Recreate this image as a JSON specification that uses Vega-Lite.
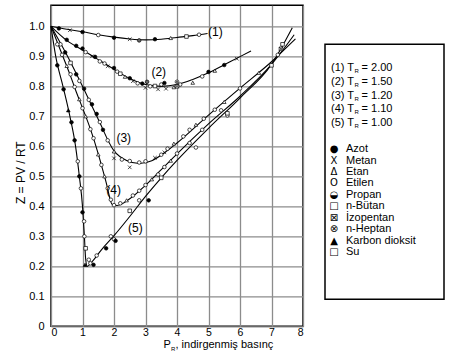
{
  "$schema": "https://vega.github.io/schema/vega-lite/v6.json",
  "background": "white",
  "padding": {"left": 13, "top": 4, "right": 0, "bottom": 0},
  "autosize": {"type": "pad"},
  "spacing": 20,
  "center": true,
  "config": {
    "font": "Liberation Sans",
    "text": {"color": "black"},
    "axis": {"ticks": false, "tickSize": 0, "domain": false, "labelColor": "black", "gridColor": "#8c8c8c", "gridWidth": 1.3, "gridOpacity": 1},
    "axisX": {"labelPadding": 1, "labelFontSize": 10.5},
    "axisY": {"labelPadding": 7, "labelFontSize": 11}
  },
  "datasets": {
    "curves": [
      {"c": "1", "P": 0, "Z": 1.0}, {"c": "1", "P": 0.5, "Z": 0.99}, {"c": "1", "P": 1, "Z": 0.982}, {"c": "1", "P": 1.5, "Z": 0.972}, {"c": "1", "P": 2, "Z": 0.964}, {"c": "1", "P": 2.5, "Z": 0.958}, {"c": "1", "P": 3, "Z": 0.955}, {"c": "1", "P": 3.5, "Z": 0.957}, {"c": "1", "P": 4, "Z": 0.963}, {"c": "1", "P": 4.5, "Z": 0.969}, {"c": "1", "P": 4.97, "Z": 0.976},
      {"c": "2", "P": 0, "Z": 1.0}, {"c": "2", "P": 0.5, "Z": 0.953}, {"c": "2", "P": 1, "Z": 0.921}, {"c": "2", "P": 1.5, "Z": 0.889}, {"c": "2", "P": 2, "Z": 0.857}, {"c": "2", "P": 2.5, "Z": 0.826}, {"c": "2", "P": 3, "Z": 0.806}, {"c": "2", "P": 3.5, "Z": 0.8}, {"c": "2", "P": 4, "Z": 0.806}, {"c": "2", "P": 4.5, "Z": 0.823}, {"c": "2", "P": 5, "Z": 0.845}, {"c": "2", "P": 5.5, "Z": 0.872}, {"c": "2", "P": 6, "Z": 0.899}, {"c": "2", "P": 6.35, "Z": 0.918},
      {"c": "3", "P": 0, "Z": 1.0}, {"c": "3", "P": 0.5, "Z": 0.905}, {"c": "3", "P": 1, "Z": 0.8}, {"c": "3", "P": 1.5, "Z": 0.69}, {"c": "3", "P": 2, "Z": 0.585}, {"c": "3", "P": 2.4, "Z": 0.553}, {"c": "3", "P": 2.8, "Z": 0.543}, {"c": "3", "P": 3.2, "Z": 0.552}, {"c": "3", "P": 3.6, "Z": 0.578}, {"c": "3", "P": 4, "Z": 0.611}, {"c": "3", "P": 5, "Z": 0.704}, {"c": "3", "P": 6, "Z": 0.794}, {"c": "3", "P": 7, "Z": 0.882}, {"c": "3", "P": 7.76, "Z": 0.958},
      {"c": "4", "P": 0, "Z": 1.0}, {"c": "4", "P": 0.3, "Z": 0.92}, {"c": "4", "P": 0.6, "Z": 0.84}, {"c": "4", "P": 0.8, "Z": 0.782}, {"c": "4", "P": 1.0, "Z": 0.728}, {"c": "4", "P": 1.25, "Z": 0.658}, {"c": "4", "P": 1.5, "Z": 0.575}, {"c": "4", "P": 1.75, "Z": 0.48}, {"c": "4", "P": 1.95, "Z": 0.405}, {"c": "4", "P": 2.1, "Z": 0.403}, {"c": "4", "P": 2.5, "Z": 0.425}, {"c": "4", "P": 3, "Z": 0.47}, {"c": "4", "P": 3.5, "Z": 0.522}, {"c": "4", "P": 4, "Z": 0.575}, {"c": "4", "P": 5, "Z": 0.675}, {"c": "4", "P": 6, "Z": 0.767}, {"c": "4", "P": 7, "Z": 0.873}, {"c": "4", "P": 7.72, "Z": 0.972},
      {"c": "5", "P": 0, "Z": 1.0}, {"c": "5", "P": 0.15, "Z": 0.9}, {"c": "5", "P": 0.38, "Z": 0.8}, {"c": "5", "P": 0.6, "Z": 0.7}, {"c": "5", "P": 0.78, "Z": 0.6}, {"c": "5", "P": 0.9, "Z": 0.5}, {"c": "5", "P": 1.0, "Z": 0.4}, {"c": "5", "P": 1.06, "Z": 0.3}, {"c": "5", "P": 1.1, "Z": 0.225}, {"c": "5", "P": 1.15, "Z": 0.2}, {"c": "5", "P": 1.3, "Z": 0.215}, {"c": "5", "P": 1.6, "Z": 0.255}, {"c": "5", "P": 2, "Z": 0.302}, {"c": "5", "P": 2.5, "Z": 0.366}, {"c": "5", "P": 3, "Z": 0.433}, {"c": "5", "P": 3.5, "Z": 0.495}, {"c": "5", "P": 4, "Z": 0.553}, {"c": "5", "P": 5, "Z": 0.66}, {"c": "5", "P": 6, "Z": 0.761}, {"c": "5", "P": 7, "Z": 0.873}, {"c": "5", "P": 7.66, "Z": 0.995}
    ],
    "pts": [
      {"s": "Azot", "P": 0.25, "Z": 0.993}, {"s": "Azot", "P": 1.0, "Z": 0.981}, {"s": "Azot", "P": 2.0, "Z": 0.962}, {"s": "Azot", "P": 3.3, "Z": 0.957}, {"s": "Metan", "P": 0.6, "Z": 0.987}, {"s": "Etilen", "P": 1.5, "Z": 0.971}, {"s": "Metan", "P": 2.5, "Z": 0.957}, {"s": "Propan", "P": 2.8, "Z": 0.953}, {"s": "Etan", "P": 3.8, "Z": 0.961}, {"s": "n-Bütan", "P": 4.3, "Z": 0.966}, {"s": "Etilen", "P": 4.7, "Z": 0.972},
      {"s": "Azot", "P": 0.5, "Z": 0.955}, {"s": "Azot", "P": 0.8, "Z": 0.935}, {"s": "Azot", "P": 1.0, "Z": 0.926}, {"s": "Etilen", "P": 1.1, "Z": 0.914}, {"s": "Metan", "P": 1.3, "Z": 0.9}, {"s": "Azot", "P": 1.4, "Z": 0.898}, {"s": "Etilen", "P": 1.55, "Z": 0.883}, {"s": "Etilen", "P": 1.7, "Z": 0.876}, {"s": "Metan", "P": 1.8, "Z": 0.867}, {"s": "Azot", "P": 2.0, "Z": 0.861}, {"s": "Etilen", "P": 2.1, "Z": 0.849}, {"s": "n-Bütan", "P": 2.2, "Z": 0.842}, {"s": "Etan", "P": 2.35, "Z": 0.832}, {"s": "Azot", "P": 2.5, "Z": 0.827}, {"s": "Metan", "P": 2.6, "Z": 0.817}, {"s": "Etilen", "P": 2.75, "Z": 0.81}, {"s": "Azot", "P": 2.9, "Z": 0.809}, {"s": "Propan", "P": 3.05, "Z": 0.815}, {"s": "Metan", "P": 3.0, "Z": 0.795}, {"s": "Etilen", "P": 3.15, "Z": 0.8}, {"s": "n-Bütan", "P": 3.3, "Z": 0.801}, {"s": "Metan", "P": 3.4, "Z": 0.79}, {"s": "Etilen", "P": 3.5, "Z": 0.806}, {"s": "Azot", "P": 3.6, "Z": 0.811}, {"s": "Metan", "P": 3.65, "Z": 0.792}, {"s": "Etan", "P": 3.9, "Z": 0.797}, {"s": "n-Heptan", "P": 4.0, "Z": 0.815}, {"s": "Etilen", "P": 4.1, "Z": 0.806}, {"s": "İzopentan", "P": 4.0, "Z": 0.8}, {"s": "Etan", "P": 4.5, "Z": 0.812}, {"s": "Etilen", "P": 4.8, "Z": 0.833}, {"s": "Azot", "P": 5.0, "Z": 0.848}, {"s": "Etan", "P": 5.2, "Z": 0.852}, {"s": "Azot", "P": 5.5, "Z": 0.871}, {"s": "Metan", "P": 5.9, "Z": 0.892},
      {"s": "Etilen", "P": 0.3, "Z": 0.94}, {"s": "Azot", "P": 0.45, "Z": 0.913}, {"s": "n-Bütan", "P": 0.62, "Z": 0.878}, {"s": "Azot", "P": 0.8, "Z": 0.84}, {"s": "Etilen", "P": 0.9, "Z": 0.818}, {"s": "Azot", "P": 1.05, "Z": 0.792}, {"s": "Etilen", "P": 1.2, "Z": 0.755}, {"s": "Azot", "P": 1.3, "Z": 0.74}, {"s": "Azot", "P": 1.45, "Z": 0.708}, {"s": "Etilen", "P": 1.55, "Z": 0.681}, {"s": "Azot", "P": 1.65, "Z": 0.655}, {"s": "Etilen", "P": 1.8, "Z": 0.62}, {"s": "Etan", "P": 2.0, "Z": 0.583}, {"s": "Metan", "P": 2.0, "Z": 0.56}, {"s": "Etilen", "P": 2.25, "Z": 0.556}, {"s": "Metan", "P": 2.5, "Z": 0.53}, {"s": "Etilen", "P": 2.5, "Z": 0.551}, {"s": "Etilen", "P": 2.8, "Z": 0.546}, {"s": "Etilen", "P": 3.0, "Z": 0.55}, {"s": "Metan", "P": 3.3, "Z": 0.562}, {"s": "Etilen", "P": 3.5, "Z": 0.572}, {"s": "Metan", "P": 3.6, "Z": 0.58}, {"s": "Etilen", "P": 3.7, "Z": 0.592}, {"s": "Etan", "P": 3.9, "Z": 0.609}, {"s": "Etilen", "P": 4.2, "Z": 0.633}, {"s": "Etilen", "P": 4.4, "Z": 0.655}, {"s": "Etan", "P": 4.6, "Z": 0.672}, {"s": "Etilen", "P": 4.85, "Z": 0.692}, {"s": "Etilen", "P": 5.2, "Z": 0.722}, {"s": "Etan", "P": 5.5, "Z": 0.748}, {"s": "Etilen", "P": 6.0, "Z": 0.793}, {"s": "Etan", "P": 6.6, "Z": 0.845}, {"s": "Etilen", "P": 7.2, "Z": 0.905},
      {"s": "Etilen", "P": 0.2, "Z": 0.94}, {"s": "Etilen", "P": 0.35, "Z": 0.905}, {"s": "Etan", "P": 0.5, "Z": 0.868}, {"s": "Etilen", "P": 0.62, "Z": 0.84}, {"s": "Etilen", "P": 0.75, "Z": 0.798}, {"s": "Etan", "P": 0.9, "Z": 0.757}, {"s": "Etilen", "P": 1.0, "Z": 0.727}, {"s": "Etan", "P": 1.1, "Z": 0.7}, {"s": "Etilen", "P": 1.25, "Z": 0.657}, {"s": "Etilen", "P": 1.35, "Z": 0.627}, {"s": "Etan", "P": 1.5, "Z": 0.573}, {"s": "Etilen", "P": 1.6, "Z": 0.538}, {"s": "Etan", "P": 1.7, "Z": 0.5}, {"s": "Etilen", "P": 1.8, "Z": 0.46}, {"s": "Etilen", "P": 1.9, "Z": 0.422}, {"s": "Etilen", "P": 2.0, "Z": 0.404}, {"s": "Etilen", "P": 2.2, "Z": 0.41}, {"s": "Etan", "P": 2.4, "Z": 0.42}, {"s": "Etilen", "P": 2.6, "Z": 0.436}, {"s": "Etilen", "P": 2.8, "Z": 0.452}, {"s": "Etilen", "P": 3.0, "Z": 0.471}, {"s": "Etan", "P": 3.2, "Z": 0.49}, {"s": "Etilen", "P": 3.4, "Z": 0.506}, {"s": "Etilen", "P": 3.6, "Z": 0.531}, {"s": "Etan", "P": 3.8, "Z": 0.552}, {"s": "Etilen", "P": 4.0, "Z": 0.576}, {"s": "Etilen", "P": 4.4, "Z": 0.611}, {"s": "Etilen", "P": 4.6, "Z": 0.596}, {"s": "Etilen", "P": 4.8, "Z": 0.655}, {"s": "Etilen", "P": 5.4, "Z": 0.72}, {"s": "Etilen", "P": 5.6, "Z": 0.703},
      {"s": "Azot", "P": 0.2, "Z": 0.87}, {"s": "Azot", "P": 0.4, "Z": 0.79}, {"s": "Karbon dioksit", "P": 0.55, "Z": 0.72}, {"s": "Azot", "P": 0.65, "Z": 0.68}, {"s": "Azot", "P": 0.75, "Z": 0.62}, {"s": "Etilen", "P": 0.85, "Z": 0.55}, {"s": "Azot", "P": 0.9, "Z": 0.5}, {"s": "Etilen", "P": 0.95, "Z": 0.46}, {"s": "Azot", "P": 1.0, "Z": 0.38}, {"s": "Etilen", "P": 1.05, "Z": 0.35}, {"s": "Etilen", "P": 1.06, "Z": 0.3}, {"s": "n-Bütan", "P": 1.1, "Z": 0.26}, {"s": "Karbon dioksit", "P": 1.08, "Z": 0.205}, {"s": "Etilen", "P": 1.2, "Z": 0.222}, {"s": "Etilen", "P": 1.25, "Z": 0.21}, {"s": "Azot", "P": 1.35, "Z": 0.205}, {"s": "Etilen", "P": 1.45, "Z": 0.236}, {"s": "Azot", "P": 1.75, "Z": 0.26}, {"s": "Etilen", "P": 1.9, "Z": 0.3}, {"s": "Etilen", "P": 2.0, "Z": 0.29}, {"s": "Azot", "P": 2.05, "Z": 0.285}, {"s": "n-Bütan", "P": 2.5, "Z": 0.385}, {"s": "Etilen", "P": 2.8, "Z": 0.42}, {"s": "Azot", "P": 3.1, "Z": 0.42}, {"s": "n-Bütan", "P": 3.5, "Z": 0.495}, {"s": "n-Bütan", "P": 5.6, "Z": 0.71}, {"s": "Su", "P": 7.0, "Z": 0.87}, {"s": "İzopentan", "P": 7.3, "Z": 0.925}, {"s": "n-Bütan", "P": 7.35, "Z": 0.94}
    ],
    "labels": [
      {"t": "(1)", "P": 5.22, "Z": 0.981}, {"t": "(2)", "P": 3.42, "Z": 0.847}, {"t": "(3)", "P": 2.31, "Z": 0.628}, {"t": "(4)", "P": 1.99, "Z": 0.456}, {"t": "(5)", "P": 2.68, "Z": 0.328}
    ],
    "xtitle": [
      {"t": "P", "P": 3.571, "Z": -0.0733}, {"t": ", indirgenmiş basınç", "P": 3.952, "Z": -0.0733}
    ],
    "xsub": [
      {"t": "R", "P": 3.81, "Z": -0.082}
    ],
    "ytitle": [
      {"t": "Z = PV / RT", "P": -0.968, "Z": 0.512}
    ],
    "tr": [
      {"i": 1, "a": "(1) T", "r": "R", "b": "= 2.00"},
      {"i": 2, "a": "(2) T", "r": "R", "b": "= 1.50"},
      {"i": 3, "a": "(3) T", "r": "R", "b": "= 1.20"},
      {"i": 4, "a": "(4) T", "r": "R", "b": "= 1.10"},
      {"i": 5, "a": "(5) T", "r": "R", "b": "= 1.00"}
    ],
    "subs": [
      {"j": 1, "g": "●", "s": "Azot"},
      {"j": 2, "g": "X", "s": "Metan"},
      {"j": 3, "g": "Δ", "s": "Etan"},
      {"j": 4, "g": "O", "s": "Etilen"},
      {"j": 5, "g": "◒", "s": "Propan"},
      {"j": 6, "g": "□", "s": "n-Bütan"},
      {"j": 7, "g": "⊠", "s": "İzopentan"},
      {"j": 8, "g": "⊗", "s": "n-Heptan"},
      {"j": 9, "g": "▲", "s": "Karbon dioksit"},
      {"j": 10, "g": "□", "s": "Su"}
    ]
  },
  "hconcat": [
    {
      "width": 252,
      "height": 321,
      "view": {"stroke": "black", "strokeWidth": 1.5},
      "encoding": {
        "x": {"field": "P", "type": "quantitative", "scale": {"domain": [0, 8], "nice": false, "zero": false}, "axis": {"values": [0, 1, 2, 3, 4, 5, 6, 7, 8], "title": null}},
        "y": {"field": "Z", "type": "quantitative", "scale": {"domain": [0, 1.07], "nice": false, "zero": false}, "axis": {"values": [0, 0.1, 0.2, 0.3, 0.4, 0.5, 0.6, 0.7, 0.8, 0.9, 1.0], "labelExpr": "datum.value == 0 ? '0' : format(datum.value, '.1f')", "title": null}}
      },
      "layer": [
        {"data": {"name": "curves"}, "mark": {"type": "line", "color": "black", "strokeWidth": 1.1, "interpolate": "monotone"}, "encoding": {"detail": {"field": "c"}}},
        {"data": {"name": "pts"}, "mark": {"type": "point", "stroke": "black", "strokeWidth": 0.7, "size": 13, "opacity": 1},
          "encoding": {
            "shape": {"field": "s", "type": "nominal", "legend": null, "scale": {"domain": ["Azot", "Metan", "Etan", "Etilen", "Propan", "n-Bütan", "İzopentan", "n-Heptan", "Karbon dioksit", "Su"], "range": ["circle", "M-1,-1L1,1M-1,1L1,-1", "triangle-up", "circle", "circle", "square", "M-1,-1H1V1H-1Z M-1,-1L1,1M1,-1L-1,1", "M-1,0A1,1 0 1,0 1,0A1,1 0 1,0 -1,0Z M-0.7,-0.7L0.7,0.7M0.7,-0.7L-0.7,0.7", "triangle-up", "square"]}},
            "fill": {"field": "s", "type": "nominal", "legend": null, "scale": {"domain": ["Azot", "Metan", "Etan", "Etilen", "Propan", "n-Bütan", "İzopentan", "n-Heptan", "Karbon dioksit", "Su"], "range": ["black", "white", "white", "white", "#666666", "white", "white", "white", "black", "white"]}}
          }},
        {"data": {"name": "labels"}, "mark": {"type": "text", "fontSize": 12, "align": "center", "baseline": "middle"}, "encoding": {"text": {"field": "t"}}},
        {"data": {"name": "xtitle"}, "mark": {"type": "text", "fontSize": 11, "align": "left", "baseline": "alphabetic"}, "encoding": {"text": {"field": "t"}}},
        {"data": {"name": "xsub"}, "mark": {"type": "text", "fontSize": 6, "align": "left", "baseline": "alphabetic"}, "encoding": {"text": {"field": "t"}}},
        {"data": {"name": "ytitle"}, "mark": {"type": "text", "fontSize": 12, "align": "center", "baseline": "middle", "angle": 270}, "encoding": {"text": {"field": "t"}}}
      ]
    },
    {
      "width": 119,
      "height": 255,
      "view": {"stroke": "black", "strokeWidth": 1.5},
      "title": {"text": " ", "orient": "bottom", "fontSize": 2, "offset": 12},
      "layer": [
        {"data": {"name": "tr"},
          "encoding": {
            "y": {"field": "i", "type": "quantitative", "scale": {"domain": [-0.745, 17.8], "reverse": true, "nice": false, "zero": false}, "axis": null}
          },
          "layer": [
            {"mark": {"type": "text", "fontSize": 11, "align": "left", "baseline": "middle"}, "encoding": {"x": {"datum": 0.0504, "type": "quantitative", "scale": {"domain": [0, 1], "nice": false, "zero": false}, "axis": null}, "text": {"field": "a"}}},
            {"mark": {"type": "text", "fontSize": 6, "align": "left", "baseline": "middle", "dy": 3}, "encoding": {"x": {"datum": 0.248, "type": "quantitative", "axis": null}, "text": {"field": "r"}}},
            {"mark": {"type": "text", "fontSize": 11, "align": "left", "baseline": "middle"}, "encoding": {"x": {"datum": 0.307, "type": "quantitative", "axis": null}, "text": {"field": "b"}}}
          ]},
        {"data": {"name": "subs"},
          "encoding": {
            "y": {"field": "j", "type": "quantitative", "scale": {"domain": [-8.178, 14.112], "reverse": true, "nice": false, "zero": false}, "axis": null}
          },
          "layer": [
            {"mark": {"type": "text", "fontSize": 10, "font": "DejaVu Sans", "align": "center", "baseline": "middle"}, "encoding": {"x": {"datum": 0.0756, "type": "quantitative", "axis": null}, "text": {"field": "g"}}},
            {"mark": {"type": "text", "fontSize": 11, "align": "left", "baseline": "middle"}, "encoding": {"x": {"datum": 0.1765, "type": "quantitative", "axis": null}, "text": {"field": "s"}}}
          ]}
      ],
      "resolve": {"scale": {"y": "independent"}}
    }
  ]
}
